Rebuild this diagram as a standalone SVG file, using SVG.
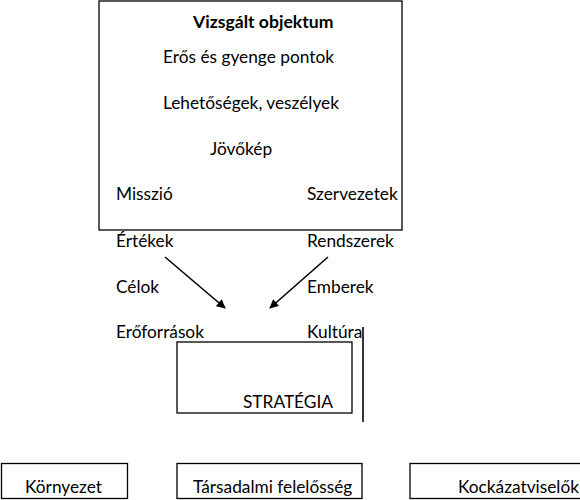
<svg xmlns="http://www.w3.org/2000/svg" width="580" height="500" viewBox="0 0 580 500">
<defs>
<style>
text{font-family:Lato,"Open Sans","Liberation Sans",sans-serif;font-size:17.3px;fill:#000}
.b{font-weight:bold;font-size:17.6px}
.box{fill:#fff;stroke:#000;stroke-width:1.3}
.ln{stroke:#000;stroke-width:1.6;fill:none}
</style>
<marker id="ah" viewBox="0 0 10 10" refX="9" refY="5" markerWidth="10" markerHeight="9" orient="auto" markerUnits="userSpaceOnUse">
<path d="M0,0 L10,5 L0,10 z" fill="#000"/>
</marker>
</defs>
<rect width="580" height="500" fill="#fff"/>
<g id="objektum">
<rect class="box" x="99" y="1" width="303" height="229"/>
<text class="b" x="193" y="28">Vizsgált objektum</text>
<text x="163" y="63">Erős és gyenge pontok</text>
<text x="163" y="109">Lehetőségek, veszélyek</text>
<text x="210" y="155">Jövőkép</text>
<text x="116" y="200">Misszió</text>
<text x="307" y="200">Szervezetek</text>
</g>
<g id="left-items">
<text x="116" y="247">Értékek</text>
<text x="116" y="293">Célok</text>
<text x="116" y="338">Erőforrások</text>
</g>
<g id="right-items">
<text x="307" y="247">Rendszerek</text>
<text x="307" y="293">Emberek</text>
<text x="307" y="338">Kultúra</text>
</g>
<g id="strategia">
<rect class="box" x="177" y="342" width="175" height="71"/>
<text x="243" y="408">STRATÉGIA</text>
</g>
<g id="connectors">
<line class="ln" x1="165" y1="257" x2="225" y2="308" marker-end="url(#ah)"/>
<line class="ln" x1="328" y1="257" x2="270" y2="308" marker-end="url(#ah)"/>
<line class="ln" x1="363" y1="327" x2="363" y2="422" stroke-width="1.2"/>
</g>
<g id="kornyezet">
<rect class="box" x="1.5" y="463.5" width="126" height="35"/>
<text x="25" y="493">Környezet</text>
</g>
<g id="tarsadalmi">
<rect class="box" x="177" y="463.5" width="185" height="35"/>
<text x="193" y="493">Társadalmi felelősség</text>
</g>
<g id="kockazatviselok">
<rect class="box" x="410" y="463.5" width="175" height="35"/>
<text x="458" y="493">Kockázatviselők</text>
</g>
</svg>
